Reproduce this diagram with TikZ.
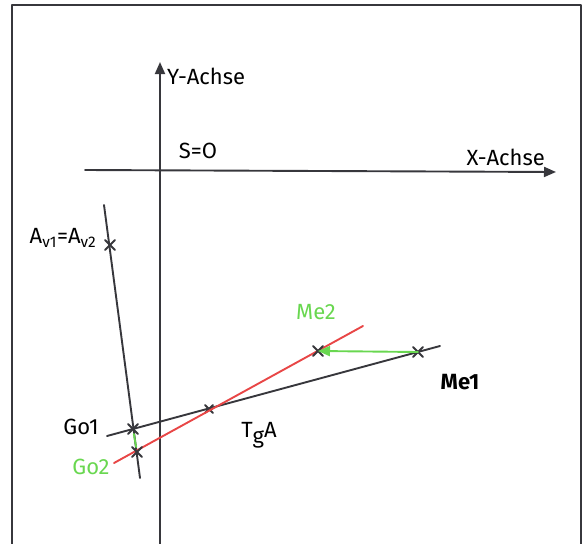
\documentclass[tikz,border=0pt]{standalone}
\usepackage{fontspec}
\setmainfont{Fira Sans}
\usetikzlibrary{arrows.meta,shapes.misc}

\definecolor{stiftgruen}{RGB}{105,215,80}
\definecolor{stiftrot}{RGB}{232,70,70}
\definecolor{stiftgrau}{RGB}{55,55,60}

\begin{document}
\begin{tikzpicture}[x=1pt, y=-1pt, line cap=round, line join=round,
  kreuz/.style={draw, cross out, minimum size=8pt, inner sep=0pt, line width=2pt},
  beschriftung/.style={font=\fontsize{22}{24}\selectfont, inner sep=1pt}]
\useasboundingbox (0,0) rectangle (582,544);
% Rahmen
\draw[line width=2.5pt, stiftgrau] (12,546) -- (12,5) -- (581,5) -- (581,546);

% Achsen
\coordinate (yunten) at (160,544);
\coordinate (yoben) at (160,62);
\coordinate (xlinks) at (85,170);
\coordinate (xrechts) at (556,172);
\draw[line width=1.9pt, stiftgrau, -{Triangle[width=10pt,length=12pt]}] (yunten) -- (yoben);
\draw[line width=1.9pt, stiftgrau, -{Triangle[width=10pt,length=12pt]}] (xlinks) -- (xrechts);
\node[beschriftung, anchor=west] (ylabel) at (166,76) {Y-Achse};
\node[beschriftung, anchor=east] (xlabel) at (546,157) {X-Achse};
\node[beschriftung] (ursprung) at (198,151) {S=O};

% steile Gerade
\coordinate (soben) at (104,205);
\coordinate (sunten) at (140,478);
\draw[line width=1.9pt, stiftgrau] (soben) -- (sunten);
\node[kreuz, stiftgrau] (av) at (110,245) {};
\node[beschriftung] (avlabel) at (63,238) {A\textsubscript{v1}=A\textsubscript{v2}};

% schwarze Gerade
\coordinate (glinks) at (107,436);
\coordinate (grechts) at (440,346);
\draw[line width=1.9pt, stiftgrau] (glinks) -- (grechts);
\node[kreuz, stiftgrau] (go1) at (133,429) {};
\node[kreuz, stiftgrau] (me1) at (418,352) {};
\node[kreuz, stiftgrau, minimum size=6pt] (tga) at (209,409) {};

% rote Gerade
\coordinate (rlinks) at (114,463);
\coordinate (rrechts) at (363,326);
\draw[line width=1.9pt, stiftrot] (rlinks) -- (rrechts);
\node[kreuz, stiftgrau] (go2) at (137,452) {};
\node[kreuz, stiftgrau] (me2) at (318,351) {};

% Verschiebungen
\draw[line width=1.9pt, stiftgruen] (go1) -- (go2);
\draw[line width=1.9pt, stiftgruen, -{Triangle[width=10pt,length=12pt]}] (me1.center) -- (me2.center);

\node[beschriftung] (go1label) at (81,427) {Go1};
\node[beschriftung, text=stiftgruen] (go2label) at (91,467) {Go2};
\node[beschriftung, text=stiftgruen] (me2label) at (316,312) {Me2};
\node[beschriftung, font=\fontsize{22}{24}\selectfont\bfseries] (me1label) at (460,382) {Me1};
\node[beschriftung] (tgalabel) at (259,435) {T\raisebox{-6pt}{g}A};
\end{tikzpicture}
\end{document}
